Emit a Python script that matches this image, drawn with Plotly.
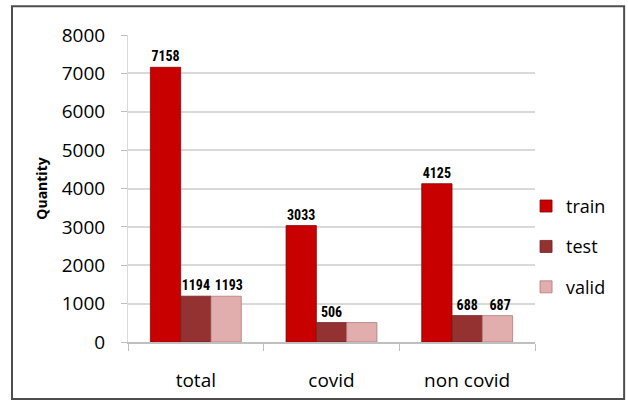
import plotly.graph_objects as go

# Dataset split sizes per class
categories = ["total", "covid", "non covid"]
train = [7158, 3033, 4125]
test = [1194, 506, 688]
valid = [1193, 506, 687]

# which bars carry a value label (the covid/valid label is not shown)
show_label = {
    "train": [True, True, True],
    "test": [True, True, True],
    "valid": [True, False, True],
}

series = [
    ("train", train, "#C80000", "#8A0000"),
    ("test", test, "#943232", "#6E2020"),
    ("valid", valid, "#E2AEAD", "#B07878"),
]

FONT = "Open Sans, Liberation Sans, sans-serif"
LABEL_FONT = "Liberation Sans Narrow, Roboto Condensed, Roboto, sans-serif"

fig = go.Figure()
for i, (name, vals, color, edge) in enumerate(series):
    # valid labels sit a touch to the right so they don't run into the test labels
    pad = "\u2009\u2009" if name == "valid" else ""
    labels = [f"{pad}{v}" if s else "" for v, s in zip(vals, show_label[name])]
    fig.add_trace(go.Bar(
        x=categories,
        y=vals,
        name=name,
        legendgroup=name,
        marker=dict(color=color, line=dict(color=edge, width=0.8)),
        text=labels,
        textposition="outside",
        constraintext="none",
        textfont=dict(family=LABEL_FONT, size=14, color="black", weight="bold"),
        cliponaxis=False,
    ))

fig.update_layout(
    width=628,
    height=405,
    margin=dict(l=128, r=93, t=35, b=63),
    paper_bgcolor="white",
    plot_bgcolor="white",
    barmode="group",
    bargap=0.33,
    bargroupgap=0,
    font=dict(family=FONT, size=18, color="black"),
    showlegend=True,
    legend=dict(
        x=0.978, y=0.31, xanchor="left", yanchor="middle",
        font=dict(size=18),
        traceorder="grouped",
        tracegroupgap=14,
        itemwidth=30,
        bgcolor="rgba(0,0,0,0)",
    ),
    xaxis=dict(
        showgrid=False,
        showline=True, linecolor="#BFBFBF", linewidth=1.5,
        ticks="outside", tickson="boundaries", ticklen=7, tickcolor="#BFBFBF",
        tickfont=dict(size=19),
        ticklabelstandoff=20,
    ),
    yaxis=dict(
        range=[0, 8000],
        dtick=1000,
        showgrid=True, gridcolor="#D9D9D9", gridwidth=1.5,
        showline=True, linecolor="#D9D9D9", linewidth=1,
        ticks="outside", ticklen=6, tickcolor="#BFBFBF",
        tickfont=dict(size=19),
        ticklabelstandoff=12,
        zeroline=False,
        title=dict(text="<b>Quantity</b>", font=dict(size=14), standoff=10),
    ),
    shapes=[
        dict(
            type="rect", xref="paper", yref="paper",
            x0=-0.285, x1=1.219, y0=-0.186, y1=1.094,
            line=dict(color="#4D4D4D", width=2),
            fillcolor="rgba(0,0,0,0)",
            layer="below",
        )
    ],
)

fig.write_html("out.html")
